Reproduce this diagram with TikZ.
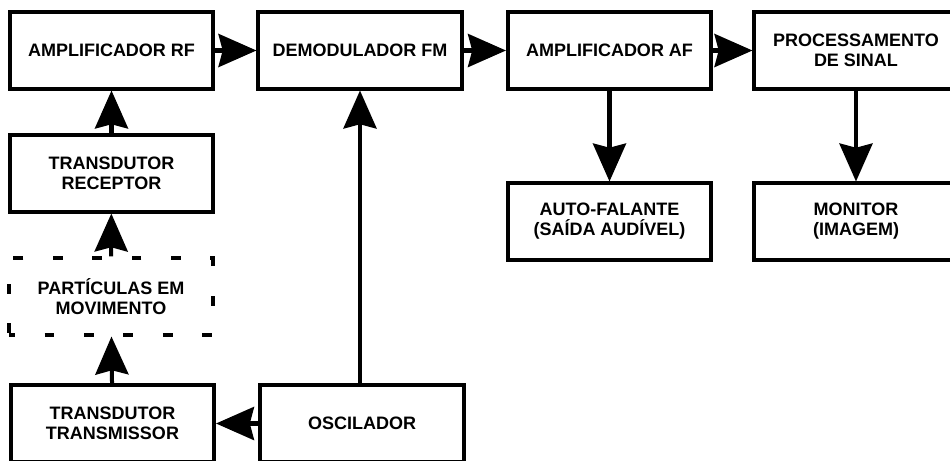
\documentclass[tikz,border=0pt]{standalone}
\usepackage{fontspec}
\setmainfont{Liberation Sans}
\usetikzlibrary{arrows.meta,positioning}
\tikzset{
  figbox/.style={draw=black, line width=2.85pt, fill=white, inner sep=0pt,
                 minimum width=5.075cm, minimum height=1.9cm, align=center,
                 font=\fontsize{12.8}{14.2}\selectfont\bfseries},
  figdash/.style={figbox, dash pattern=on 7pt off 21pt, dash phase=3pt},
  figarrow/.style={-{Stealth[length=27pt, width=23.5pt, inset=3pt]}, line width=2.85pt, draw=black}
}

\begin{document}
\begin{tikzpicture}[x=0.025cm, y=-0.025cm]
\useasboundingbox (0,0) rectangle (950,461);
\clip (0,0) rectangle (950,461);

% top row
\node[figbox] (rf)    at (111.5,50.5) {AMPLIFICADOR RF};
\node[figbox] (demod) at (360,50.5)   {DEMODULADOR FM};
\node[figbox] (af)    at (609.5,50.5) {AMPLIFICADOR AF};
\node[figbox] (proc)  at (856,50.5)   {PROCESSAMENTO\\DE SINAL};

% outputs
\node[figbox] (spk) at (609.5,221.5) {AUTO-FALANTE\\(SAÍDA AUDÍVEL)};
\node[figbox] (mon) at (856,221.5)   {MONITOR\\(IMAGEM)};

% left column
\node[figbox]  (rec)  at (111.5,173.5) {TRANSDUTOR\\RECEPTOR};
\node[figdash] (part) at (111,296.5)   {PARTÍCULAS EM\\MOVIMENTO};
\node[figbox]  (tx)   at (112.5,423.5) {TRANSDUTOR\\TRANSMISSOR};
\node[figbox]  (osc)  at (362,423.5)   {OSCILADOR};

\draw[figarrow] (rf) -- (demod);
\draw[figarrow] (demod) -- (af);
\draw[figarrow] (af) -- (proc);
\draw[figarrow] (af) -- (spk);
\draw[figarrow] (proc) -- (mon);
\draw[figarrow] (rec) -- (rf);
\draw[figarrow] (part) -- (rec);
\draw[figarrow] (tx) -- (part);
\draw[figarrow] (osc) -- (tx);
\draw[figarrow] (demod.south |- osc.north) -- (demod.south);

\end{tikzpicture}
\end{document}
